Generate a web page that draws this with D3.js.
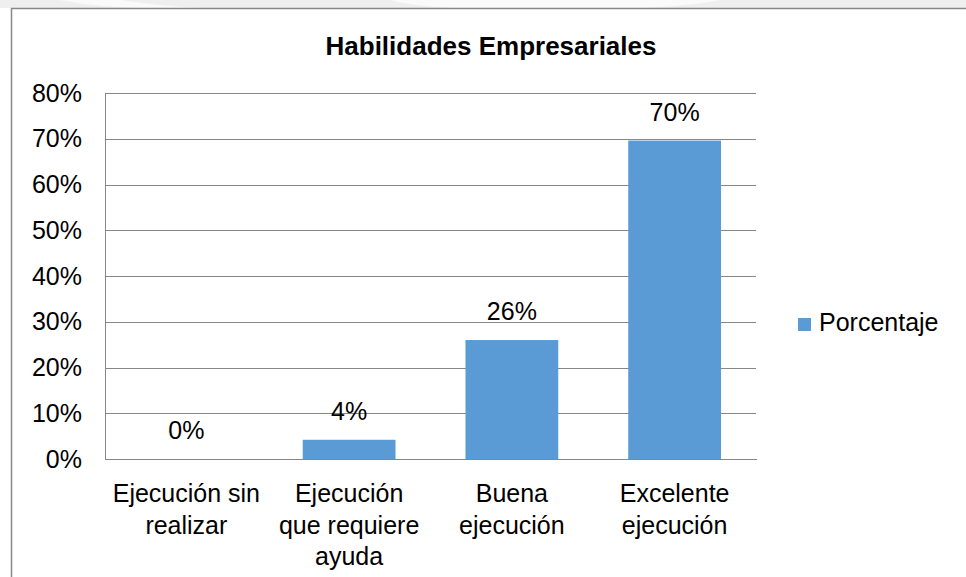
<!DOCTYPE html>
<html>
<head>
<meta charset="utf-8">
<script src="https://cdn.jsdelivr.net/npm/d3@7/dist/d3.min.js"></script>
<style>
  html, body { margin: 0; padding: 0; background: #fff; }
  svg { display: block; font-family: "Liberation Sans", Arial, sans-serif; }
</style>
</head>
<body>
<div id="chart"></div>
<script>
// chart data
const TITLE      = "Habilidades Empresariales"
const SERIES     = "Porcentaje"
const CATEGORIES = [
    ["Ejecución sin", "realizar"],
    ["Ejecución", "que requiere", "ayuda"],
    ["Buena", "ejecución"],
    ["Excelente", "ejecución"]
]
const VALUES     = [0, 4.2, 26, 69.6]
const Y_TICKS    = [0, 10, 20, 30, 40, 50, 60, 70, 80]

// dimensions of the page and the plot
const W = 966, H = 577
const PLOT = {left: 105, right: 756, top: 93, bottom: 459}
const BAR_COLOR  = "#5b9bd5"
const LINE_COLOR = "#878787"
const FONT_SIZE  = 25

const svg = d3.select("#chart")
    .append("svg")
        .attr("width", W)
        .attr("height", H)

// faint watermark strip above the frame
svg.append("rect")
    .attr("x", 0).attr("y", 0)
    .attr("width", W).attr("height", 8)
    .style("fill", "#efefef")
svg.append("path")
    .attr("d", "M60,0 Q100,8 150,8 L200,8 Q160,6 120,0 Z M390,0 Q420,8 470,8 L640,8 Q690,6 720,0 Z")
    .style("fill", "#fafafa")

// chart frame
svg.append("rect")
    .attr("x", 11.5).attr("y", 8.5)
    .attr("width", W + 10).attr("height", H + 10)
    .style("fill", "#fff")
    .style("stroke", LINE_COLOR)
    .style("stroke-width", 1.5)

const x = d3.scaleBand()
    .domain(d3.range(CATEGORIES.length))
    .range([PLOT.left, PLOT.right])
    .paddingInner(0.43)
    .paddingOuter(0.215)

const xc = d3.scaleBand()
    .domain(d3.range(CATEGORIES.length))
    .range([PLOT.left, PLOT.right])

const y = d3.scaleLinear()
    .domain([0, 80])
    .range([PLOT.bottom, PLOT.top])

// gridlines
svg.append("g")
    .attr("transform", `translate(${PLOT.left}, 0)`)
    .call(d3.axisLeft(y)
        .tickValues(Y_TICKS)
        .tickSize(-(PLOT.right - PLOT.left))
        .tickFormat(""))
    .call(g => g.select(".domain").remove())
    .selectAll("line")
        .style("stroke", LINE_COLOR)
        .style("shape-rendering", "crispEdges")

// y axis labels
svg.append("g")
    .attr("transform", `translate(${PLOT.left}, 0)`)
    .call(d3.axisLeft(y)
        .tickValues(Y_TICKS)
        .tickSize(0)
        .tickPadding(23)
        .tickFormat(d => d + "%"))
    .call(g => g.select(".domain")
        .style("stroke", LINE_COLOR)
        .style("shape-rendering", "crispEdges"))
    .selectAll("text")
        .style("font-family", "Liberation Sans, Arial, sans-serif")
        .style("font-size", FONT_SIZE + "px")
        .style("fill", "#000")

// bars
svg.append("g")
    .selectAll("rect")
    .data(VALUES)
    .join("rect")
        .attr("x", (d, i) => x(i))
        .attr("y", d => y(d))
        .attr("width", x.bandwidth())
        .attr("height", d => y(0) - y(d))
        .style("fill", BAR_COLOR)

// x axis line
svg.append("g")
    .attr("transform", `translate(0, ${PLOT.bottom})`)
    .call(d3.axisBottom(xc).tickSize(0).tickFormat(""))
    .select(".domain")
        .style("stroke", LINE_COLOR)
        .style("shape-rendering", "crispEdges")

// data labels
const fmt = d3.format(".0%")
svg.append("g")
    .selectAll("text")
    .data(VALUES)
    .join("text")
        .attr("x", (d, i) => xc(i) + xc.bandwidth() / 2)
        .attr("y", d => y(d) - 20)
        .attr("text-anchor", "middle")
        .style("font-size", FONT_SIZE + "px")
        .text(d => fmt(d / 100))

// category labels, one tspan per line
svg.append("g")
    .selectAll("text")
    .data(CATEGORIES)
    .join("text")
        .attr("text-anchor", "middle")
        .style("font-size", FONT_SIZE + "px")
        .each(function(lines, i) {
            d3.select(this).selectAll("tspan")
                .data(lines)
                .join("tspan")
                    .attr("x", xc(i) + xc.bandwidth() / 2)
                    .attr("y", (l, j) => PLOT.bottom + 43 + j * 31.5)
                    .text(l => l)
        })

// title
svg.append("text")
    .attr("x", 491)
    .attr("y", 55)
    .attr("text-anchor", "middle")
    .style("font-size", "26px")
    .style("font-weight", "bold")
    .text(TITLE)

// legend
const legend = svg.append("g")
    .attr("transform", "translate(798, 318)")
legend.append("rect")
    .attr("width", 13).attr("height", 13)
    .style("fill", BAR_COLOR)
legend.append("text")
    .attr("x", 21)
    .attr("y", 13)
    .style("font-size", FONT_SIZE + "px")
    .text(SERIES)
</script>
</body>
</html>
